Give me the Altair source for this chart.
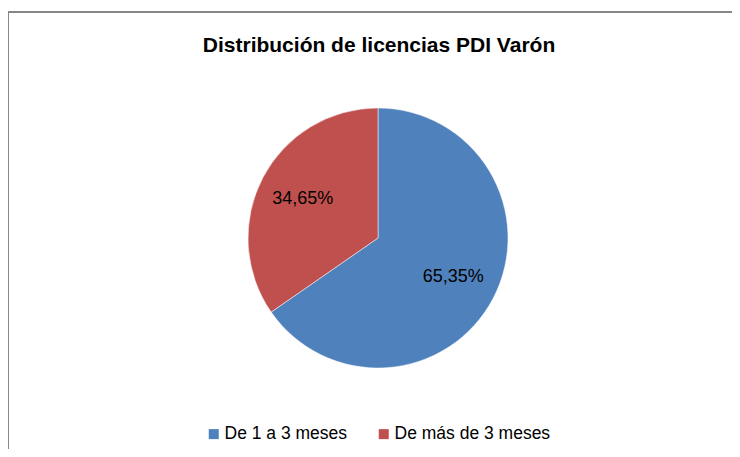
import altair as alt
import pandas as pd

categorias = ["De 1 a 3 meses", "De más de 3 meses"]
porcentajes = [65.35, 34.65]
colores = ["#4F81BD", "#C0504D"]
titulo = "Distribución de licencias PDI Varón"

etiquetas = [f"{v:.2f}".replace(".", ",") + "%" for v in porcentajes]
df = pd.DataFrame({
    "categoria": categorias,
    "valor": porcentajes,
    "etiqueta": etiquetas,
    "orden": list(range(len(categorias))),
})

FONT = "Liberation Sans"
CX, CY, R = 370, 176, 130

color = alt.Color(
    "categoria:N",
    scale=alt.Scale(domain=categorias, range=colores),
    sort=categorias,
    legend=alt.Legend(
        title=None,
        orient="none",
        direction="horizontal",
        legendX=197,
        legendY=363,
        symbolType="square",
        symbolSize=100,
        symbolStrokeWidth=0,
        labelFont=FONT,
        labelFontSize=17.5,
        labelColor="#000000",
        labelOffset=2,
        labelLimit=400,
        columnPadding=27,
        padding=0,
    ),
)

pie = alt.Chart(df).mark_arc(outerRadius=R, stroke="#ffffff", strokeWidth=0.5).encode(
    theta=alt.Theta("valor:Q", stack=True),
    color=color,
    order=alt.Order("orden:Q"),
    x=alt.value(CX),
    y=alt.value(CY),
)

text = alt.Chart(df).mark_text(radius=85, font=FONT, fontSize=18, color="#000000").encode(
    theta=alt.Theta("valor:Q", stack=True),
    order=alt.Order("orden:Q"),
    text="etiqueta:N",
    x=alt.value(CX),
    y=alt.value(CY),
)

borde = pd.DataFrame({"k": [0]})
linea_sup = alt.Chart(borde).mark_rule(color="#878787", strokeWidth=2).encode(
    x=alt.value(0), x2=alt.value(724), y=alt.value(-50)
)
linea_izq = alt.Chart(borde).mark_rule(color="#878787", strokeWidth=2).encode(
    x=alt.value(0), y=alt.value(-51), y2=alt.value(387)
)

chart = alt.layer(linea_sup, linea_izq, pie, text).properties(
    width=724,
    height=387,
    autosize=alt.AutoSizeParams(type="none"),
    padding={"left": 0, "top": 54, "right": 0, "bottom": 0},
    title=alt.TitleParams(
        text=titulo,
        font=FONT,
        fontSize=21,
        fontWeight="bold",
        color="#000000",
        anchor="middle",
        baseline="alphabetic",
        offset=0,
        dy=63,
        dx=9,
    ),
).configure_view(stroke=None)

chart.save("out.html", embed_options={"renderer": "svg", "actions": False})
